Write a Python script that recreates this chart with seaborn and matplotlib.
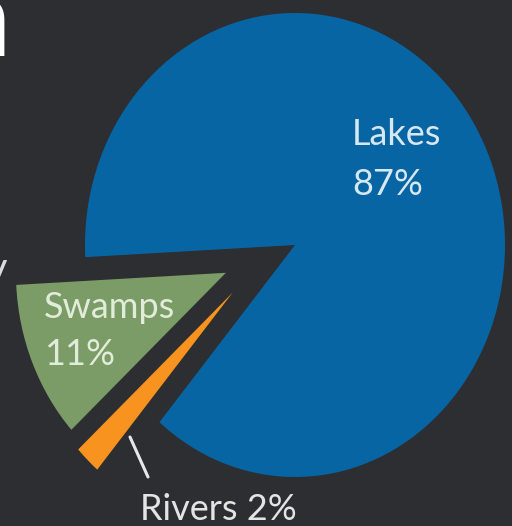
import matplotlib
matplotlib.use("Agg")
import numpy as np
import matplotlib.pyplot as plt
import seaborn as sns
from matplotlib.lines import Line2D

categories = ["Lakes", "Swamps", "Rivers"]
values = [87, 11, 2]
explode = [0.0, 0.35, 0.36]
colors = ["#0865a3", "#7b9c66", "#f7931e"]

BG = "#2c2e32"
sns.set_theme(style="white", rc={"figure.facecolor": BG, "axes.facecolor": BG,
                                  "savefig.facecolor": BG})
plt.rcParams["font.family"] = ["Lato", "DejaVu Sans"]

W, H = 512, 526
fig = plt.figure(figsize=(W / 100, H / 100), dpi=100)
ax = fig.add_axes([0, 0, 1, 1])

wedges, _ = ax.pie(values, explode=explode, colors=colors, startangle=-130.2,
                   counterclock=True, wedgeprops=dict(linewidth=0))
# direction (degrees) in which each slice is pulled out of the pie
pull_dir = [None, 200.0, 214.6]
for w, d, a in zip(wedges, explode, pull_dir):
    if a is not None:
        w.set_center((d * np.cos(np.radians(a)), d * np.sin(np.radians(a))))

ax.set_aspect("auto")
# pie centre at (295, 245) px, radius 210 px horizontally, 232 px vertically
cx, cy, rx, ry = 295, 245, 210, 232
ax.set_xlim(-cx / rx, (W - cx) / rx)
ax.set_ylim(-(H - cy) / ry, cy / ry)
ax.axis("off")


def fx(px):
    return px / W


def fy(py):
    return 1 - py / H


fs = 26
ax.text(fx(352), fy(145), "Lakes", transform=fig.transFigure, color="#d6e8f2",
        fontsize=fs, va="baseline", ha="left")
ax.text(fx(352), fy(195), "87%", transform=fig.transFigure, color="#d6e8f2",
        fontsize=fs, va="baseline", ha="left")
ax.text(fx(44), fy(318), "Swamps", transform=fig.transFigure, color="#e2ecda",
        fontsize=fs, va="baseline", ha="left")
ax.text(fx(44), fy(365), "11%", transform=fig.transFigure, color="#e2ecda",
        fontsize=fs, va="baseline", ha="left")
ax.text(fx(140), fy(520), "Rivers 2%", transform=fig.transFigure, color="#e4e4e4",
        fontsize=fs, va="baseline", ha="left")

fig.add_artist(Line2D([fx(130), fx(148)], [fy(437), fy(477)], color="#e8e8e8",
                      lw=2.2, transform=fig.transFigure))

# cropped slide text on the left edge
fig.text(fx(10), fy(56), "n", color="white", fontsize=80, fontweight="bold",
         ha="right", va="baseline")
fig.text(fx(7), fy(282), "y", color="#dcdcdc", fontsize=30, ha="right", va="baseline")

fig.savefig("out.png", dpi=100, facecolor=BG)
